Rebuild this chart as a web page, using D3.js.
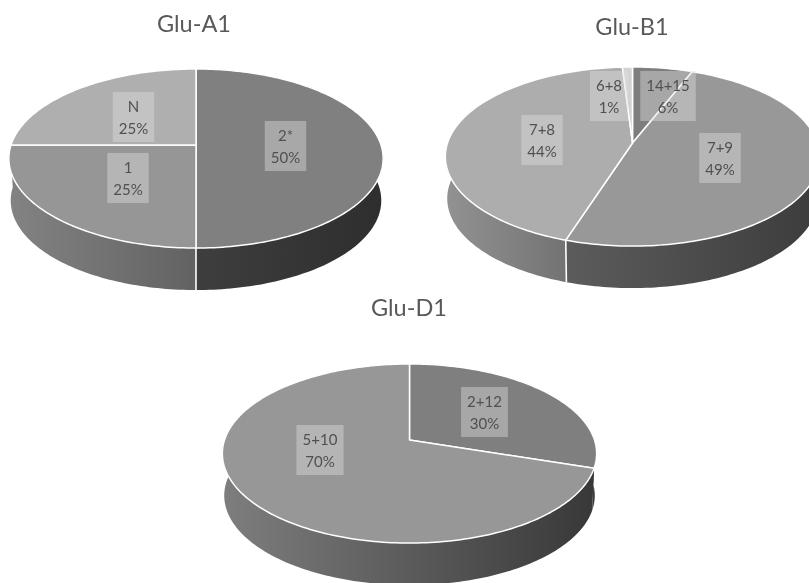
<!DOCTYPE html>
<html>
<head>
<meta charset="utf-8">
<script src="https://cdn.jsdelivr.net/npm/d3@7"></script>
<style>
  html, body { margin: 0; padding: 0; background: #fff; overflow: hidden; }
  svg { display: block; filter: blur(0.4px); }
  text { font-family: Lato, "Open Sans", sans-serif; }
</style>
</head>
<body>
<div class="area"></div>
<script>
// values
var titles = ["Glu-A1", "Glu-B1", "Glu-D1"];
var a1Labels = ["2*", "1", "N"];
var a1Values = [50, 25, 25];
var b1Labels = ["14+15", "7+9", "7+8", "6+8"];
var b1Values = [6, 49, 44, 1];
var d1Labels = ["2+12", "5+10"];
var d1Values = [30, 70];

// look of each pie, kept apart from the values
var a1Style = {
  cx: 196, cy: 145, titleX: 194, titleY: 32,
  fills: ["#808080", "#969696", "#afafaf"],
  sides: [["#3e3e3e", "#2e2e2e"], ["#838383", "#626262"], ["#838383", "#838383"]],
  boxes: [[285.5, 146], [128, 178], [133.5, 117]]
};
var b1Style = {
  cx: 632.5, cy: 143, titleX: 632, titleY: 35,
  fills: ["#7e7e7e", "#989898", "#adadad", "#d3d3d3"],
  sides: [["#444444", "#444444"], ["#5c5c5c", "#3c3c3c"], ["#929292", "#737373"], ["#929292", "#929292"]],
  boxes: [[668, 96], [720, 158], [542, 140], [609, 96]]
};
var d1Style = {
  cx: 409.5, cy: 440, titleX: 409, titleY: 316,
  fills: ["#7f7f7f", "#979797"],
  sides: [["#3a3a3a", "#3a3a3a"], ["#7e7e7e", "#383838"]],
  boxes: [[484.5, 412], [320, 450]]
};

var width = 809, height = 583;
var rx = 185, ry = 87.5, tilt = -0.151, depth = 42, bottomScale = 0.99;

var svg = d3.select(".area")
  .append("svg")
    .attr("width", width)
    .attr("height", height);

var defs = svg.append("defs");
var pie = d3.pie().sort(null);
var line = d3.line();

// perspective view of a flat disc, angle is clockwise from 12 o'clock
function project(style, angle, radius, drop, scale) {
  var u = Math.sin(angle) * radius,
      v = -Math.cos(angle) * radius,
      w = 1 + tilt * v;
  return [style.cx + rx * scale * u / w, style.cy + ry * v / w + drop];
}

function sweep(d) {
  return d3.range(d.startAngle, d.endAngle, 0.02).concat([d.endAngle]);
}

function drawPie(id, title, labels, values, style) {
  var g = svg.append("g");
  var slices = pie(values);

  // side wall
  slices.forEach(function(d, i) {
    var angles = sweep(d);
    var front = angles.filter(function(a) { return Math.cos(a) < 0.1; });
    if (!front.length) return;
    var xs = front.map(function(a) { return project(style, a, 1, 0, 1)[0]; });

    var grad = defs.append("linearGradient")
      .attr("id", id + "-side-" + i)
      .attr("gradientUnits", "userSpaceOnUse")
      .attr("x1", d3.min(xs)).attr("x2", d3.max(xs))
      .attr("y1", 0).attr("y2", 0);
    grad.append("stop").attr("offset", 0).attr("stop-color", style.sides[i][0]);
    grad.append("stop").attr("offset", 1).attr("stop-color", style.sides[i][1]);

    var upper = angles.map(function(a) { return project(style, a, 1, 0, 1); });
    var lower = angles.map(function(a) { return project(style, a, 1, depth, bottomScale); }).reverse();
    g.append("path")
      .attr("d", line(upper.concat(lower)) + "Z")
      .attr("fill", "url(#" + id + "-side-" + i + ")");
  });

  // white seams on the wall where two slices meet, none close to the silhouette
  slices.forEach(function(d) {
    if (Math.cos(d.endAngle) >= -0.5) return;
    g.append("path")
      .attr("d", line([project(style, d.endAngle, 1, 0, 1), project(style, d.endAngle, 1, depth, bottomScale)]))
      .attr("stroke", "#fff")
      .attr("stroke-width", 1.6)
      .attr("fill", "none");
  });

  // top of the pie
  slices.forEach(function(d, i) {
    var rim = sweep(d).map(function(a) { return project(style, a, 1, 0, 1); });
    g.append("path")
      .attr("d", line([[style.cx, style.cy]].concat(rim)) + "Z")
      .attr("fill", style.fills[i])
      .attr("stroke", "#fff")
      .attr("stroke-width", 1.5)
      .attr("stroke-linejoin", "round");
  });

  // data labels
  labels.forEach(function(name, i) {
    var lg = g.append("g")
      .attr("transform", "translate(" + style.boxes[i][0] + "," + style.boxes[i][1] + ")");
    var rect = lg.append("rect").attr("fill", "#e0e0e0").attr("fill-opacity", 0.42);
    var txt = lg.append("text")
      .attr("text-anchor", "middle")
      .attr("fill", "#505050")
      .attr("font-size", 15);
    txt.append("tspan").attr("x", 0).attr("y", -5.5).text(name);
    txt.append("tspan").attr("x", 0).attr("y", 16.5).text(values[i] + "%");
    var w = txt.node().getBBox().width + 12;
    rect.attr("x", -w / 2).attr("y", -25).attr("width", w).attr("height", 50);
  });

  g.append("text")
    .attr("x", style.titleX)
    .attr("y", style.titleY)
    .attr("text-anchor", "middle")
    .attr("fill", "#595959")
    .attr("font-size", 23.5)
    .text(title);
}

drawPie("a1", titles[0], a1Labels, a1Values, a1Style);
drawPie("b1", titles[1], b1Labels, b1Values, b1Style);
drawPie("d1", titles[2], d1Labels, d1Values, d1Style);
</script>
</body>
</html>
